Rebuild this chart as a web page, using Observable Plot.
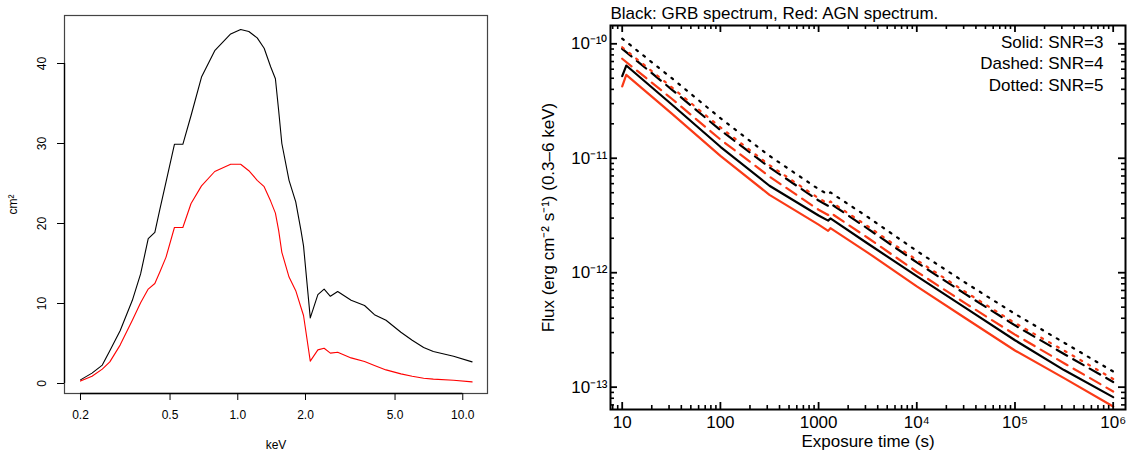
<!DOCTYPE html>
<html><head><meta charset="utf-8">
<script src="https://cdn.jsdelivr.net/npm/d3@7"></script>
<script src="https://cdn.jsdelivr.net/npm/@observablehq/plot@0.6"></script>
<style>
body{margin:0;background:#fff;width:1130px;height:456px;overflow:hidden;font-family:"Liberation Sans",Arial,sans-serif}
#left{position:absolute;left:0;top:0}
#right{position:absolute;left:530px;top:0}
</style></head><body>
<div id="left"></div><div id="right"></div>
<script>
// ---------- Left panel: effective area (cm^2) vs energy (keV) ----------
const energyKeV = [0.2,0.225,0.25,0.27,0.30,0.34,0.37,0.40,0.428,0.45,0.48,0.523,0.57,0.62,0.69,0.79,0.93,1.03,1.12,1.22,1.31,1.40,1.47,1.52,1.57,1.69,1.81,1.91,1.96,2.10,2.27,2.42,2.58,2.78,3.19,3.66,4.05,4.56,5.31,5.96,6.70,7.4,9.1,11.0];
const areaBlack = [0.45,1.3,2.3,4.1,6.6,10.4,13.7,18.1,18.9,21.7,25.2,29.9,29.9,33.5,38.3,41.6,43.7,44.25,44.0,43.2,41.9,39.6,38.1,34.1,30.0,25.4,22.7,19.1,17.2,8.2,11.1,11.8,10.9,11.5,10.4,9.75,8.6,7.9,6.4,5.4,4.5,4.0,3.4,2.7];
const areaRed = [0.3,0.9,1.8,2.7,4.8,7.9,10.1,11.8,12.5,13.9,15.8,19.5,19.5,22.5,24.7,26.5,27.4,27.4,26.6,25.4,24.6,22.8,21.3,19.1,16.4,13.3,11.6,9.5,8.5,2.8,4.2,4.4,3.8,3.9,3.2,2.75,2.25,1.7,1.2,0.9,0.65,0.55,0.4,0.2];
const xTicksL = [0.2,0.5,1,2,5,10];
const xTickLabelsL = ["0.2","0.5","1.0","2.0","5.0","10.0"];
const yTicksL = [0,10,20,30,40];

// ---------- Right panel: flux limit vs exposure time ----------
const exposureTime = [10,11,32,100,316,1000,1250,1320,3160,1e4,31600,1e5,316000,1e6];
const grbSNR3 = [5.21e-11,6.46e-11,2.95e-11,1.26e-11,5.75e-12,3.16e-12,2.85e-12,2.98e-12,1.80e-12,9.33e-13,4.90e-13,2.57e-13,1.41e-13,8.18e-14];
const agnSNR3 = [4.24e-11,5.36e-11,2.45e-11,1.05e-11,4.79e-12,2.63e-12,2.32e-12,2.45e-12,1.50e-12,7.59e-13,3.98e-13,2.09e-13,1.20e-13,6.78e-14];
const grbSNR4 = [9.04e-11,null,3.98e-11,1.76e-11,8.32e-12,4.27e-12,3.84e-12,4.02e-12,2.43e-12,1.23e-12,6.46e-13,3.47e-13,1.95e-13,1.11e-13];
const agnSNR4 = [7.40e-11,null,3.31e-11,1.46e-11,6.92e-12,3.55e-12,3.19e-12,3.34e-12,2.02e-12,1.02e-12,5.37e-13,2.88e-13,1.62e-13,9.16e-14];
const grbSNR5 = [1.11e-10,null,5.01e-11,2.24e-11,1.05e-11,5.37e-12,4.83e-12,5.03e-12,3.07e-12,1.55e-12,8.13e-13,4.37e-13,2.45e-13,1.37e-13];
const agnSNR5 = [9.33e-11,null,4.17e-11,1.86e-11,8.71e-12,4.47e-12,4.02e-12,4.19e-12,2.55e-12,1.29e-12,6.76e-13,3.63e-13,2.09e-13,1.18e-13];
const xTicksR = [10,100,1000,1e4,1e5,1e6];
const xTickLabelsR = ["10","100","1000","10⁴","10⁵","10⁶"];
const yTicksR = [1e-13,1e-12,1e-11,1e-10];
const yTickLabelsR = ["10⁻¹³","10⁻¹²","10⁻¹¹","10⁻¹⁰"];
const legendLines = ["Solid: SNR=3","Dashed: SNR=4","Dotted: SNR=5"];
const titleR = "Black: GRB spectrum, Red: AGN spectrum.";

const FONT = "Liberation Sans, Arial, Helvetica, sans-serif";

// ----- Left plot -----
{
  const W = 530, H = 456, mL = 64, mR = 43, mT = 15, mB = 63;
  const xDom = [0.1698, 12.88], yDom = [-1.25, 46];
  const rows = (ys) => energyKeV.map((e, i) => ({e, a: ys[i]}));
  const p = Plot.plot({
    width: W, height: H, marginLeft: mL, marginRight: mR, marginTop: mT, marginBottom: mB,
    style: {fontFamily: FONT, fontSize: "12px", background: "transparent", color: "#000"},
    x: {type: "log", domain: xDom},
    y: {domain: yDom},
    marks: [
      Plot.frame({stroke: "#444", strokeWidth: 1.2}),
      Plot.ruleY([yDom[0]], {x1: xTicksL[0], x2: xTicksL[xTicksL.length - 1], stroke: "#000", strokeWidth: 1.3}),
      Plot.ruleX([xDom[0]], {y1: yTicksL[0], y2: yTicksL[yTicksL.length - 1], stroke: "#000", strokeWidth: 1.3}),
      Plot.axisX({ticks: xTicksL, tickSize: 7, tickPadding: 10, tickFormat: d => xTickLabelsL[xTicksL.indexOf(d)], fontSize: 12, label: null}),
      Plot.axisY({ticks: yTicksL, tickSize: 7, tickFormat: () => "", label: null}),
      Plot.text(yTicksL, {y: d => d, text: d => String(d), frameAnchor: "left", textAnchor: "middle", lineAnchor: "middle", dx: -22, rotate: -90, fontSize: 12}),
      Plot.text(["keV"], {text: d => d, frameAnchor: "bottom", lineAnchor: "middle", dy: 52, fontSize: 12}),
      Plot.text(["cm²"], {text: d => d, frameAnchor: "left", textAnchor: "middle", lineAnchor: "middle", dx: -51, rotate: -90, fontSize: 12}),
      Plot.line(rows(areaBlack), {x: "e", y: "a", stroke: "#000", strokeWidth: 1.1}),
      Plot.line(rows(areaRed), {x: "e", y: "a", stroke: "#ff0000", strokeWidth: 1.1})
    ]
  });
  document.getElementById("left").append(p);
}

// ----- Right plot -----
{
  const W = 600, H = 456, mL = 80, mR = 5, mT = 25, mB = 47;
  const fw = W - mL - mR, fh = H - mT - mB;
  const xDom = [7.6, 1.335e6], yDom = [6.38e-14, 1.445e-10];
  const xMinor = [], yMinor = [];
  for (let e = 0; e <= 6; e++) for (let m = 2; m <= 9; m++) { const v = m * 10 ** e; if (v > xDom[0] && v < xDom[1]) xMinor.push(v); }
  for (let e = -14; e <= -10; e++) for (let m = 2; m <= 9; m++) { const v = m * 10 ** e; if (v > yDom[0] && v < yDom[1]) yMinor.push(v); }
  const red = "#fa3a16";
  const series = [
    {v: grbSNR3, c: "#000", dash: null},
    {v: grbSNR4, c: "#000", dash: "12,7"},
    {v: grbSNR5, c: "#000", dash: "2,7"},
    {v: agnSNR3, c: red, dash: null},
    {v: agnSNR4, c: red, dash: "12,7"},
    {v: agnSNR5, c: red, dash: "2,7"}
  ];
  const lineMarks = series.map(s => Plot.line(
    exposureTime.map((t, i) => ({t, f: s.v[i]})).filter(d => d.f != null),
    {x: "t", y: "f", stroke: s.c, strokeWidth: 2.2, strokeDasharray: s.dash ?? undefined}
  ));
  const fs = 17;
  const p = Plot.plot({
    width: W, height: H, marginLeft: mL, marginRight: mR, marginTop: mT, marginBottom: mB,
    style: {fontFamily: FONT, fontSize: fs + "px", background: "transparent", color: "#000", overflow: "visible"},
    x: {type: "log", domain: xDom, axis: null},
    y: {type: "log", domain: yDom, axis: null},
    marks: [
      ...lineMarks,
      // inward ticks on all four sides
      Plot.tickX(xTicksR, {x: d => d, insetTop: fh - 7, strokeWidth: 1.8}),
      Plot.tickX(xTicksR, {x: d => d, insetBottom: fh - 7, strokeWidth: 1.8}),
      Plot.tickX(xMinor, {x: d => d, insetTop: fh - 4, strokeWidth: 1.6}),
      Plot.tickX(xMinor, {x: d => d, insetBottom: fh - 4, strokeWidth: 1.6}),
      Plot.tickY(yTicksR, {y: d => d, insetRight: fw - 7, strokeWidth: 1.8}),
      Plot.tickY(yTicksR, {y: d => d, insetLeft: fw - 7, strokeWidth: 1.8}),
      Plot.tickY(yMinor, {y: d => d, insetRight: fw - 4, strokeWidth: 1.6}),
      Plot.tickY(yMinor, {y: d => d, insetLeft: fw - 4, strokeWidth: 1.6}),
      Plot.frame({stroke: "#000", strokeWidth: 2}),
      Plot.text(xTicksR, {x: d => d, text: (d, i) => xTickLabelsR[i], frameAnchor: "bottom", lineAnchor: "middle", dy: 13, fontSize: fs}),
      Plot.text(yTicksR, {y: d => d, text: (d, i) => yTickLabelsR[i], frameAnchor: "left", textAnchor: "end", lineAnchor: "middle", dx: -3, fontSize: fs}),
      Plot.text(["Exposure time (s)"], {text: d => d, frameAnchor: "bottom", lineAnchor: "middle", dy: 32, fontSize: fs}),
      Plot.text(["Flux (erg cm⁻² s⁻¹) (0.3–6 keV)"], {text: d => d, frameAnchor: "left", textAnchor: "middle", lineAnchor: "middle", dx: -62, rotate: -90, fontSize: fs}),
      Plot.text([titleR], {text: d => d, frameAnchor: "top-left", textAnchor: "start", lineAnchor: "middle", dy: -12, fontSize: fs}),
      ...legendLines.map((s, i) => Plot.text([s], {text: d => d, frameAnchor: "top-right", textAnchor: "end", lineAnchor: "middle", dx: -22, dy: [17, 38, 60][i], fontSize: fs}))
    ]
  });
  document.getElementById("right").append(p);
}
</script>
</body></html>
